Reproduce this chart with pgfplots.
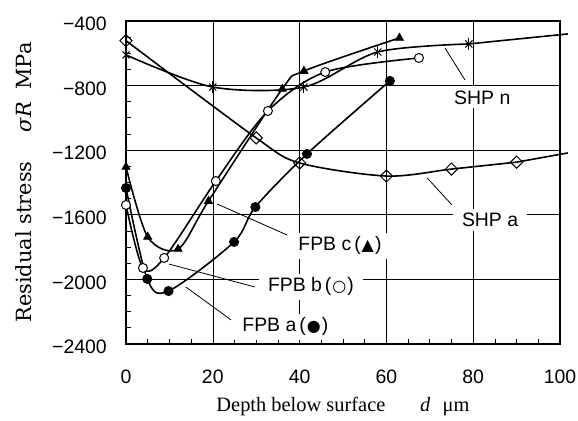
\documentclass[border=0pt]{standalone}
\usepackage{fontspec}
\setmainfont{Liberation Sans}
\newfontfamily\serif{Liberation Serif}
\newfontfamily\dserif{DejaVu Serif}
\newfontfamily\dv{DejaVu Sans}
\usepackage{pgfplots}
\pgfplotsset{compat=1.18}
\begin{document}
\fontsize{19.5}{23}\selectfont
\begin{tikzpicture}
\begin{axis}[
  at={(126bp,77bp)}, anchor=south west,
  scale only axis, width=434bp, height=323bp,
  xmin=0, xmax=100, ymin=-2400, ymax=-400,
  xtick={0,20,40,60,80,100},
  xticklabels={0,20,40,60,80,100},
  ytick={-2400,-2000,-1600,-1200,-800,-400},
  yticklabels={−2400,−2000,−1600,−1200,−800,−400},
  minor x tick num=3, minor y tick num=3,
  tick pos=left, tick align=inside,
  major tick length=0pt, minor tick length=5bp,
  grid=major,
  major grid style={black, line width=0.6bp},
  axis line style={line width=1.6bp},
  every tick/.style={black, line width=0.8bp},
  tick label style={font=\fontsize{19.5}{23}\selectfont},
  xticklabel style={inner sep=0pt},
  yticklabel style={inner sep=0pt, yshift=-3bp},
  xticklabel shift=26bp, yticklabel shift=19bp,
  clip=false,
  xlabel={{\serif\fontsize{20.5}{24}\selectfont Depth below surface\hspace{1.7em}\textit{d}\hspace{0.6em}μm}},
  xlabel style={at={(axis description cs:0.5,-0.2105)}, anchor=base, inner sep=0pt},
  ylabel={{\dserif\fontsize{21}{24}\selectfont Residual stress\hspace{1.4em}\textit{σR}\hspace{0.6em}MPa}},
  ylabel style={at={(axis description cs:-0.2166,0.5)}, anchor=base, inner sep=0pt},
  every axis plot/.append style={black, line width=1.6bp, smooth, tension=0.5},
]
% SHP a
\addplot[mark=square, mark size=4.3bp, mark options={rotate=45, fill=white, line width=1bp}]
 coordinates {(0,-522) (30,-1124) (40,-1279) (60,-1360) (75,-1317) (90,-1274)};
\addplot[mark=none] coordinates {(90,-1274) (101.8,-1217)};
% SHP n
\addplot[mark=x, mark size=5bp, mark options={line width=1bp}]
 coordinates {(0,-610) (20,-809) (41,-809) (58,-592) (79,-542)};
\addplot[only marks, mark=|, mark size=6bp, mark options={line width=1bp}]
 coordinates {(0,-610) (20,-809) (41,-809) (58,-592) (79,-542)};
\addplot[mark=none] coordinates {(79,-542) (101.8,-480)};
% FPB c
\addplot[mark=triangle*, mark size=4.8bp, mark options={fill=black, line width=0.6bp}]
 coordinates {(0,-1304) (5,-1737) (12,-1812) (19,-1515) (36,-821) (41,-710) (63,-505)};
% FPB b
\addplot[mark=*, mark size=4.5bp, mark options={fill=white, line width=1bp}]
 coordinates {(0,-1539) (3.9,-1929) (8.8,-1867) (20.7,-1391) (32.7,-957) (45.9,-716) (67.5,-629)};
% FPB a
\addplot[mark=*, mark size=4.5bp, mark options={fill=black, line width=1bp}]
 coordinates {(0,-1434) (4.9,-1997) (9.8,-2072) (24.9,-1768) (29.8,-1552) (41.7,-1223) (60.8,-771)};
% leaders
\draw[line width=0.8bp] (axis cs:73.5,-567) -- (axis cs:78.1,-765);
\draw[line width=0.8bp] (axis cs:69.4,-1372) -- (axis cs:75.1,-1539);
\draw[line width=0.8bp] (axis cs:21,-1533) -- (axis cs:37.1,-1725);
\draw[line width=0.8bp] (axis cs:9.9,-1905) -- (axis cs:29.7,-2047);
\draw[line width=0.8bp] (axis cs:13.8,-2047) -- (axis cs:24.2,-2251);
% labels
\tikzset{lbl/.style={anchor=base west, fill=white, inner xsep=9bp, inner ysep=4bp, font=\fontsize{19.5}{23}\selectfont}}
\node[lbl] at (axis cs:73.5,-914) {SHP n};
\node[lbl] at (axis cs:75.3,-1674) {SHP a};
\node[lbl] at (axis cs:37.6,-1824) {FPB c\hspace{3bp}(\hspace{1bp}{\dv\fontsize{16}{18}\selectfont ▲}\hspace{1bp})};
\node[lbl] at (axis cs:30.6,-2076) {FPB b\hspace{3bp}(\hspace{1bp}{\dv\fontsize{16}{18}\selectfont ○}\hspace{1bp})};
\node[lbl] at (axis cs:24.7,-2324) {FPB a\hspace{3bp}(\hspace{1bp}{\dv\fontsize{16}{18}\selectfont ●}\hspace{1bp})};
\end{axis}
\pgfresetboundingbox
\useasboundingbox (0,0) rectangle (578bp,421bp);
\end{tikzpicture}
\end{document}
